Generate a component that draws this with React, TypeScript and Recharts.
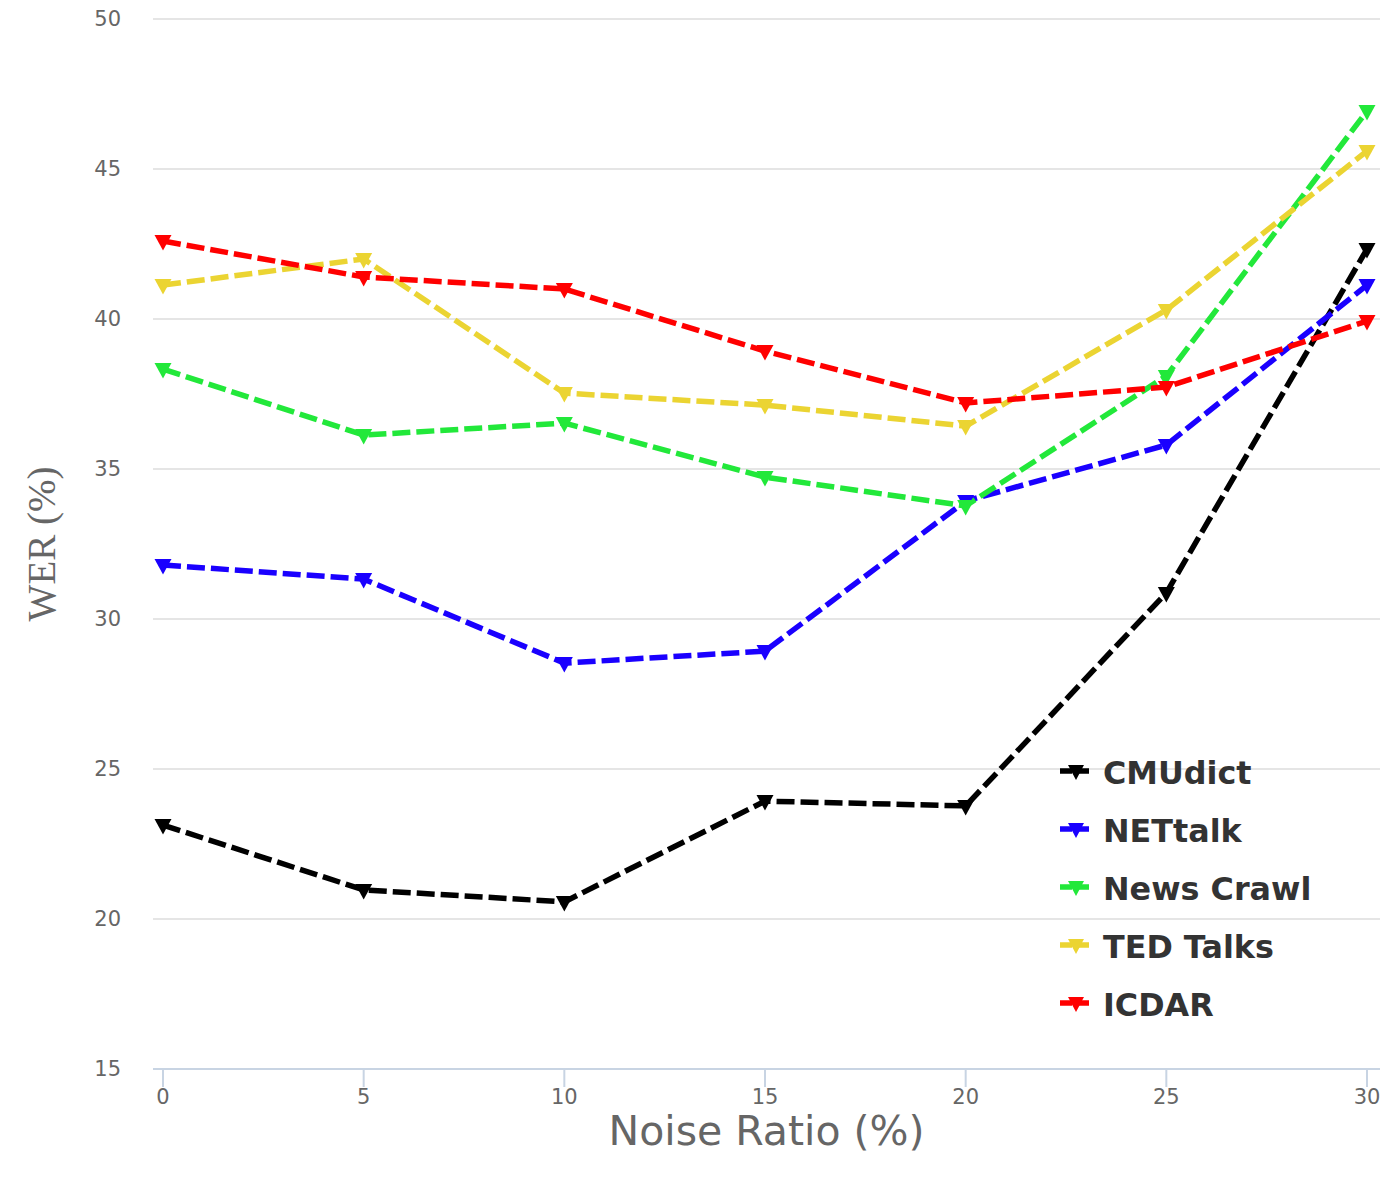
import React from 'react';
import { LineChart, Line, XAxis, YAxis, CartesianGrid } from 'recharts';

const noiseRatios = [0, 5, 10, 15, 20, 25, 30];
const cmudict = [23.13, 20.97, 20.57, 23.93, 23.77, 30.87, 42.33];
const nettalk = [31.8, 31.33, 28.53, 28.93, 33.93, 35.8, 41.13];
const newsCrawl = [38.33, 36.13, 36.53, 34.73, 33.77, 38.1, 46.93];
const tedTalks = [41.13, 42.0, 37.53, 37.13, 36.43, 40.3, 45.6];
const icdar = [42.6, 41.4, 41.0, 38.93, 37.2, 37.73, 39.93];

const xTicks = [0, 5, 10, 15, 20, 25, 30];
const yTicks = [15, 20, 25, 30, 35, 40, 45, 50];

const seriesDefs = [
  { key: 'cmudict', name: 'CMUdict', color: '#000000', values: cmudict },
  { key: 'nettalk', name: 'NETtalk', color: '#1a00ff', values: nettalk },
  { key: 'newsCrawl', name: 'News Crawl', color: '#22e83a', values: newsCrawl },
  { key: 'tedTalks', name: 'TED Talks', color: '#ebd432', values: tedTalks },
  { key: 'icdar', name: 'ICDAR', color: '#ff0000', values: icdar },
];

const data = noiseRatios.map((x, i) => {
  const row: any = { x };
  seriesDefs.forEach((s) => {
    row[s.key] = s.values[i];
  });
  return row;
});

const makeDot = (color: string) => (props: any) => {
  const { cx, cy, index } = props;
  if (cx == null || cy == null) return <g key={index} />;
  const pts = `${cx - 8.5},${cy - 6} ${cx + 8.5},${cy - 6} ${cx},${cy + 9.5}`;
  return <polygon key={index} points={pts} fill={color} stroke="none" />;
};

const LegendBox = () => (
  <div style={{ position: 'absolute', left: 1059, top: 744, display: 'flex', flexDirection: 'column' }}>
    {seriesDefs.map((s) => (
      <div key={s.key} style={{ display: 'flex', alignItems: 'center', height: 58 }}>
        <svg width={34} height={20} style={{ marginRight: 10 }}>
          <line x1={1} y1={8} x2={33} y2={8} stroke={s.color} strokeWidth={5.5} strokeDasharray="12 5" />
          <polygon points="9,2 25,2 17,17" fill={s.color} />
        </svg>
        <span
          style={{
            fontFamily: 'DejaVu Sans, Verdana, sans-serif',
            fontWeight: 'bold',
            fontSize: 31.8,
            color: '#333333',
            lineHeight: '58px',
            whiteSpace: 'nowrap',
          }}
        >
          {s.name}
        </span>
      </div>
    ))}
  </div>
);

const YLabel = (props: any) => {
  const vb = props.viewBox || {};
  const cx = 41;
  const cy = vb.y + vb.height / 2;
  return (
    <text
      x={cx}
      y={cy}
      transform={`rotate(-90, ${cx}, ${cy})`}
      textAnchor="middle"
      dominantBaseline="central"
      fontFamily="Liberation Serif, Times New Roman, serif"
      fontSize={39}
      fill="#666666"
    >
      WER (%)
    </text>
  );
};

const XLabel = (props: any) => {
  const vb = props.viewBox || {};
  const cx = vb.x + vb.width / 2;
  const cy = 1131;
  return (
    <text
      x={cx}
      y={cy}
      textAnchor="middle"
      dominantBaseline="central"
      fontFamily="DejaVu Sans, Verdana, sans-serif"
      fontSize={41}
      fill="#666666"
    >
      Noise Ratio (%)
    </text>
  );
};

export default function App() {
  return (
    <div style={{ position: 'absolute', left: 0, top: 0, width: 1400, height: 1200, background: '#fff' }}>
      <LineChart width={1400} height={1200} data={data} margin={{ top: 19, right: 20, bottom: 0, left: 0 }}>
        <CartesianGrid horizontal={true} vertical={false} stroke="#e5e5e5" strokeWidth={2} />
        <XAxis
          dataKey="x"
          type="number"
          domain={[0, 30]}
          ticks={xTicks}
          padding={{ left: 10, right: 13 }}
          height={131}
          axisLine={{ stroke: '#c8d4e3', strokeWidth: 2 }}
          tickLine={{ stroke: '#c8d4e3', strokeWidth: 2 }}
          tickSize={18}
          tickMargin={2}
          tick={{ fill: '#666666', fontSize: 21, fontFamily: 'DejaVu Sans, Verdana, sans-serif' }}
          label={<XLabel />}
        />
        <YAxis
          type="number"
          domain={[15, 50]}
          ticks={yTicks}
          width={153}
          axisLine={false}
          tickLine={false}
          tickSize={0}
          tickMargin={32}
          tick={{ fill: '#666666', fontSize: 21, fontFamily: 'DejaVu Sans, Verdana, sans-serif' }}
          label={<YLabel />}
        />
        {seriesDefs.map((s) => (
          <Line
            key={s.key}
            dataKey={s.key}
            name={s.name}
            stroke={s.color}
            strokeWidth={5.5}
            strokeDasharray="18 6"
            dot={makeDot(s.color)}
            activeDot={false}
            isAnimationActive={false}
            type="linear"
          />
        ))}
      </LineChart>
      <LegendBox />
    </div>
  );
}
